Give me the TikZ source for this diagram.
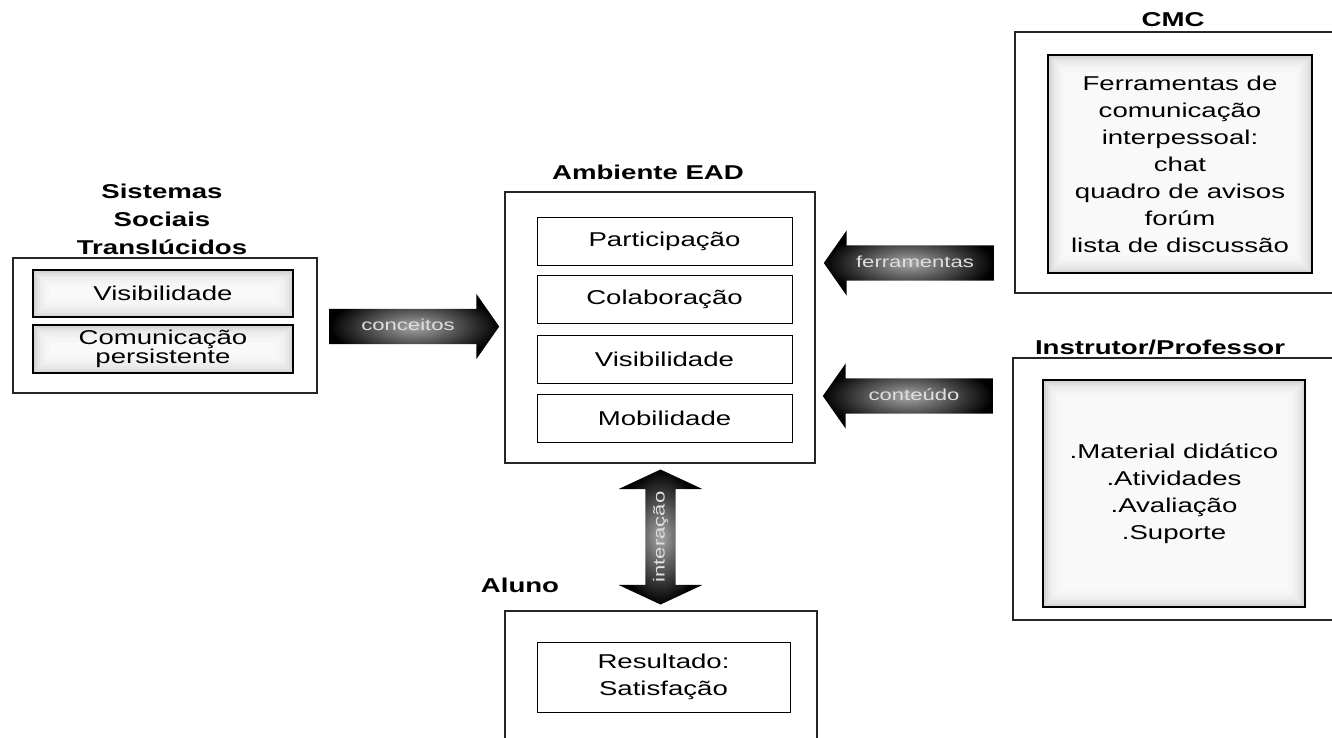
\documentclass[tikz,border=0pt]{standalone}
\usepackage{fontspec}
\setmainfont{Liberation Sans}[FakeStretch=1.38]
\usetikzlibrary{shapes.arrows}

\begin{document}
\begin{tikzpicture}
[every node/.style={inner sep=0pt},
 txt/.style={font=\fontsize{20pt}{27pt}\selectfont, align=center},
 ttl/.style={font=\fontsize{20pt}{28pt}\selectfont\bfseries, align=center},
 outerbox/.style={rectangle, draw=black!85, line width=1.1pt},
 itembox/.style={rectangle, draw=black, line width=0.9pt, fill=white, txt},
 shadebox/.style={rectangle, draw=black, line width=1.6pt, fill=gray!5, txt,
   path picture={
     \foreach \w/\c in {34/7, 26/10, 20/14, 14/19, 9/25, 5/33, 2/45}
       \draw [gray!\c, line width=\w pt] (path picture bounding box.south west) rectangle (path picture bounding box.north east);}},
 blockarrow/.style={single arrow, single arrow head extend=15pt, single arrow tip angle=110, minimum width=65pt, minimum height=170pt, text height=12pt, text depth=4pt, inner ysep=9.5pt, inner color=gray!70, outer color=black, text=gray!25, font=\fontsize{16pt}{16pt}\selectfont},
 dblarrow/.style={double arrow, double arrow head extend=27pt, double arrow tip angle=130, minimum width=84pt, minimum height=135pt, text height=12pt, text depth=4pt, inner ysep=7pt, inner color=gray!70, outer color=black, text=gray!25, font=\fontsize{16pt}{16pt}\selectfont}]
\useasboundingbox (0pt, 0pt) rectangle (1332pt, -737pt);
\node (sst) [outerbox, minimum width=304pt, minimum height=135pt] at (165.0pt, -325.5pt) {};
\node (sstt) [ttl] at (162.0pt, -219.0pt) {Sistemas\\Sociais\\Translúcidos};
\node (vis1) [shadebox, minimum width=260pt, minimum height=47pt] at (163.0pt, -293.5pt) {Visibilidade};
\node (com1) [shadebox, minimum width=260pt, minimum height=48pt, font=\fontsize{20pt}{19pt}\selectfont] at (163.0pt, -349.0pt) {Comunicação\\persistente};
\node (ead) [outerbox, minimum width=310pt, minimum height=271pt] at (660.0pt, -327.5pt) {};
\node (eadt) [ttl] at (648.0pt, -172.0pt) {Ambiente EAD};
\node (par) [itembox, minimum width=255pt, minimum height=48pt] at (664.5pt, -241.0pt) {Participação};
\node (col) [itembox, minimum width=255pt, minimum height=48pt] at (664.5pt, -299.5pt) {Colaboração};
\node (vis2) [itembox, minimum width=255pt, minimum height=48pt] at (664.5pt, -359.0pt) {Visibilidade};
\node (mob) [itembox, minimum width=255pt, minimum height=48pt] at (664.5pt, -418.5pt) {Mobilidade};
\node (cmc) [outerbox, minimum width=325pt, minimum height=261pt] at (1177.5pt, -162.5pt) {};
\node (cmct) [ttl] at (1173.0pt, -20.0pt) {CMC};
\node (fer) [shadebox, minimum width=264pt, minimum height=218pt] at (1180.0pt, -164.0pt) {Ferramentas de\\comunicação\\interpessoal:\\chat\\quadro de avisos\\forúm\\lista de discussão};
\node (prf) [outerbox, minimum width=325pt, minimum height=262pt] at (1175.5pt, -489.0pt) {};
\node (prft) [ttl] at (1160.0pt, -347.0pt) {Instrutor/Professor};
\node (mat) [shadebox, minimum width=262pt, minimum height=227pt] at (1174.0pt, -493.5pt) {.Material didático\\.Atividades\\.Avaliação\\.Suporte};
\node (alu) [outerbox, minimum width=312pt, minimum height=140pt] at (661.0pt, -681.0pt) {};
\node (alut) [ttl] at (520.0pt, -585.0pt) {Aluno};
\node (res) [itembox, minimum width=253pt, minimum height=70pt] at (663.5pt, -677.0pt) {Resultado:\\Satisfação};
\path (sst.east) -- (ead.west) node [blockarrow, midway, xshift=-3pt] (conc) {conceitos};
\path (ead.east |- 0pt,-263pt) -- (cmc.west |- 0pt,-263pt) node [blockarrow, midway, shape border rotate=180] (ferr) {ferramentas};
\path (ead.east |- 0pt,-396pt) -- (prf.west |- 0pt,-396pt) node [blockarrow, midway, shape border rotate=180] (cont) {conteúdo};
\path (ead.south) -- (alu.north) node [dblarrow, midway, rotate=90] (intr) {interação};
\end{tikzpicture}
\end{document}
